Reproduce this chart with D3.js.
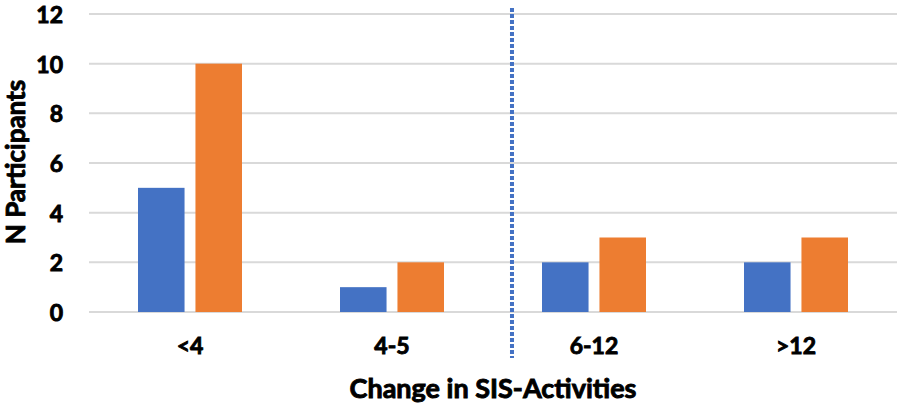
<!DOCTYPE html>
<html>
<head>
<meta charset="utf-8">
<script src="https://cdn.jsdelivr.net/npm/d3@7"></script>
<style>
  html, body { margin: 0; padding: 0; background: #fff; }
  svg { display: block; }
  text { font-family: Lato, "Open Sans", "Liberation Sans", sans-serif; font-weight: bold; fill: #000;
         stroke: #000; stroke-width: 0.9px; paint-order: stroke; }
</style>
</head>
<body>
<svg id="chart" width="904" height="405"></svg>
<script>
const categories = ["<4", "4-5", "6-12", ">12"];
const seriesNames = ["Series1", "Series2"];
const series1 = [5, 1, 2, 2];
const series2 = [10, 2, 3, 3];
const yTicks = [0, 2, 4, 6, 8, 10, 12];
const cutoffPosition = 2.094; // in category units, dotted divider
const colors = ["#4472C4", "#ED7D31"];

const svg = d3.select("#chart");
const mLeft = 89, mRight = 897, mTop = 14, mBottom = 312;

const x0 = d3.scaleBand().domain(categories).range([mLeft, mRight]).padding(0);
const x1 = d3.scaleBand().domain(seriesNames).range([-52, 52]).paddingInner(0.19).paddingOuter(0);
const y = d3.scaleLinear().domain([0, 12]).range([mBottom, mTop]);
const xPos = d3.scaleLinear().domain([0, categories.length]).range([mLeft, mRight]);

// gridlines
svg.append("g").selectAll("line").data(yTicks).join("line")
  .attr("x1", mLeft).attr("x2", mRight)
  .attr("y1", d => y(d)).attr("y2", d => y(d))
  .attr("stroke", "#d9d9d9").attr("stroke-width", 2);

// y tick labels
svg.append("g").selectAll("text").data(yTicks).join("text")
  .attr("x", 63).attr("y", d => y(d))
  .attr("text-anchor", "end").attr("dominant-baseline", "central")
  .style("font-size", "23px")
  .text(d => d);

// bars
const data = categories.map((c, i) => ({ cat: c, vals: [series1[i], series2[i]] }));
const groups = svg.append("g").selectAll("g").data(data).join("g")
  .attr("transform", d => `translate(${x0(d.cat) + x0.bandwidth() / 2},0)`);
groups.selectAll("rect").data(d => d.vals.map((v, j) => ({ s: seriesNames[j], v, j })))
  .join("rect")
  .attr("x", d => x1(d.s))
  .attr("width", x1.bandwidth())
  .attr("y", d => y(d.v))
  .attr("height", d => y(0) - y(d.v))
  .attr("fill", d => colors[d.j]);

// category labels
svg.append("g").selectAll("text").data(categories).join("text")
  .attr("x", d => x0(d) + x0.bandwidth() / 2)
  .attr("y", 354)
  .attr("text-anchor", "middle")
  .style("font-size", "23px")
  .text(d => d);

// dotted divider
svg.append("line")
  .attr("x1", xPos(cutoffPosition)).attr("x2", xPos(cutoffPosition))
  .attr("y1", 8).attr("y2", 358)
  .attr("stroke", colors[0]).attr("stroke-width", 4)
  .attr("stroke-dasharray", "4,2");

// axis titles
svg.append("text")
  .attr("x", 493).attr("y", 398)
  .attr("text-anchor", "middle")
  .style("font-size", "27px")
  .text("Change in SIS-Activities");

svg.append("text")
  .attr("transform", "translate(25,162) rotate(-90)")
  .attr("text-anchor", "middle")
  .style("font-size", "26px")
  .text("N Participants");
</script>
</body>
</html>
